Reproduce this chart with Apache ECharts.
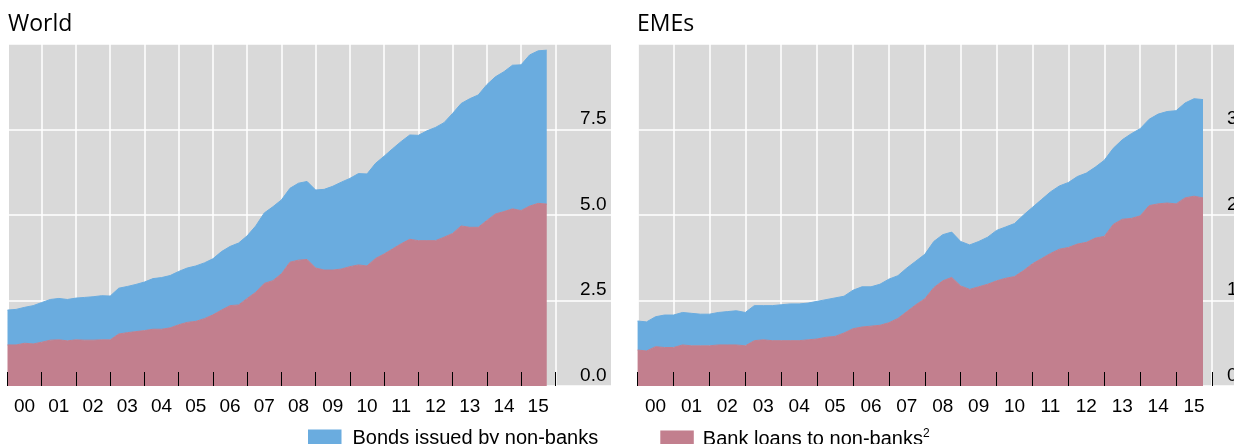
<!DOCTYPE html>
<html>
<head>
<meta charset="utf-8">
<script src="https://cdn.jsdelivr.net/npm/echarts@6/dist/echarts.min.js"></script>
<style>
html,body{margin:0;padding:0;background:#fff;}
#chart{width:1234px;height:444px;}
</style>
</head>
<body>
<div id="chart"></div>
<script>
// ---- data ----
const yearLabels = ['00','01','02','03','04','05','06','07','08','09','10','11','12','13','14','15'];
const startYear = 2000; // first quarterly observation (2000 Q1), quarterly steps to 2015 Q4
const panelTitles = ['World', 'EMEs'];
const seriesNames = ['Bonds issued by non-banks', 'Bank loans to non-banks'];

const worldLoans = [1.20,1.20,1.25,1.23, 1.28,1.34,1.35,1.32, 1.35,1.34,1.34,1.35, 1.35,1.52,1.56,1.59,
  1.62,1.66,1.66,1.70, 1.79,1.86,1.89,1.97, 2.08,2.22,2.35,2.37, 2.56,2.74,3.00,3.08,
  3.28,3.62,3.68,3.70, 3.45,3.39,3.39,3.42, 3.49,3.54,3.51,3.73, 3.86,4.01,4.16,4.29,
  4.25,4.25,4.25,4.35, 4.46,4.68,4.64,4.64, 4.84,5.03,5.10,5.18, 5.13,5.26,5.34,5.32];
const worldBonds = [1.02,1.04,1.05,1.12, 1.16,1.19,1.21,1.21, 1.22,1.25,1.27,1.29, 1.28,1.34,1.35,1.38,
  1.42,1.48,1.51,1.53, 1.56,1.59,1.62,1.63, 1.64,1.71,1.73,1.81, 1.83,1.94,2.06,2.16,
  2.16,2.16,2.25,2.28, 2.28,2.36,2.45,2.54, 2.58,2.67,2.69,2.78, 2.86,2.93,2.99,3.05,
  3.08,3.21,3.31,3.35, 3.51,3.58,3.76,3.87, 3.97,4.01,4.09,4.20, 4.26,4.42,4.46,4.50];
const emeLoans = [0.42,0.41,0.46,0.45, 0.45,0.48,0.47,0.47, 0.47,0.48,0.48,0.48, 0.47,0.53,0.54,0.53,
  0.53,0.53,0.53,0.54, 0.55,0.57,0.58,0.62, 0.67,0.69,0.70,0.71, 0.74,0.79,0.87,0.95,
  1.02,1.15,1.23,1.27, 1.17,1.13,1.16,1.19, 1.23,1.26,1.28,1.35, 1.43,1.49,1.55,1.60,
  1.62,1.66,1.68,1.73, 1.75,1.89,1.95,1.96, 1.99,2.11,2.13,2.14, 2.13,2.20,2.22,2.20];
const emeBonds = [0.34,0.34,0.35,0.38, 0.38,0.38,0.38,0.37, 0.37,0.38,0.39,0.40, 0.39,0.41,0.40,0.41,
  0.42,0.43,0.43,0.43, 0.44,0.44,0.45,0.43, 0.45,0.47,0.46,0.48, 0.51,0.50,0.51,0.51,
  0.52,0.54,0.54,0.53, 0.52,0.52,0.53,0.55, 0.59,0.60,0.62,0.65, 0.66,0.69,0.72,0.74,
  0.76,0.79,0.81,0.83, 0.89,0.89,0.93,0.99, 1.02,1.01,1.05,1.07, 1.09,1.11,1.14,1.15];
const worldTicks = {max: 10, interval: 2.5};
const emeTicks = {max: 4, interval: 1};

// quarter categories for the data axis (2000 Q1 .. 2015 Q4)
const quarters = worldLoans.map((_, k) => (startYear + Math.floor(k / 4)) + 'Q' + (k % 4 + 1));

// ---- styles / layout ----
const BLUE = '#6aacdf', PINK = '#c27f8e', GREY = '#d9d9d9';
const FONT = 'Liberation Sans, Arial, sans-serif';
const plotTop = 44, plotHeight = 342;
const nYears = yearLabels.length;
const panels = [
  {bgLeft: 9, bgRight: 611, axLeft: 7.5, axRight: 555.3, ticks: worldTicks, loans: worldLoans, bonds: worldBonds,
   labelMargin: 4.5, titleLeft: 8},
  {bgLeft: 638.5, bgRight: 1270, axLeft: 637.6, axRight: 1212, ticks: emeTicks, loans: emeLoans, bonds: emeBonds,
   labelMargin: 16.6, titleLeft: 637}
];

const grid = [], xAxis = [], yAxis = [], series = [], title = [];
panels.forEach((p, i) => {
  const yearW = (p.axRight - p.axLeft) / nYears;
  // background grid: grey area + horizontal gridlines + value labels
  const gBg = grid.length;
  grid.push({left: p.bgLeft, width: p.bgRight - p.bgLeft, top: plotTop, height: plotHeight,
    outerBoundsMode: 'none', containLabel: false,
    show: true, backgroundColor: GREY, borderWidth: 0});
  xAxis.push({type: 'value', gridIndex: gBg, min: 0, max: 1, show: false});
  yAxis.push({type: 'value', gridIndex: gBg, min: 0, max: p.ticks.max, interval: p.ticks.interval,
    position: 'right', axisLine: {show: false}, axisTick: {show: false},
    splitLine: {show: true, lineStyle: {color: '#ffffff', width: 1.5}},
    axisLabel: {inside: true, margin: p.labelMargin, verticalAlign: 'bottom',
      padding: [0, 0, 1, 0], showMaxLabel: false, color: '#000', fontSize: 19, fontFamily: FONT,
      formatter: v => v.toFixed(1)}});

  // year grid: vertical gridlines, ticks, year labels
  const gAx = grid.length;
  grid.push({left: p.axLeft, width: p.axRight - p.axLeft, top: plotTop, height: plotHeight,
    outerBoundsMode: 'none', show: false});
  xAxis.push({type: 'value', gridIndex: gAx, min: 2000, max: 2016, interval: 1, position: 'bottom',
    axisLine: {show: false}, axisTick: {show: false}, axisLabel: {show: false},
    splitLine: {show: true, lineStyle: {color: '#ffffff', width: 1.5}}});
  xAxis.push({type: 'value', gridIndex: gAx, min: 2000, max: 2016, interval: 1, position: 'bottom', z: 10,
    axisLine: {show: false}, axisLabel: {show: false}, splitLine: {show: false},
    axisTick: {show: true, inside: true, length: 14, lineStyle: {color: '#000', width: 1}}});
  xAxis.push({type: 'category', gridIndex: gAx, data: yearLabels, boundaryGap: true, position: 'bottom',
    axisLine: {show: false}, axisTick: {show: false}, splitLine: {show: false},
    axisLabel: {interval: 0, margin: 11, color: '#000', fontSize: 19, fontFamily: FONT}});
  yAxis.push({type: 'value', gridIndex: gAx, min: 0, max: p.ticks.max, show: false, splitLine: {show: false}});

  // data grid: quarterly categories from 2000Q1 to the last observation
  const gData = grid.length;
  grid.push({left: p.axLeft, width: yearW * (quarters.length - 1) / 4, top: plotTop, height: plotHeight,
    outerBoundsMode: 'none', show: false});
  const xData = xAxis.length;
  xAxis.push({type: 'category', gridIndex: gData, data: quarters, boundaryGap: false, show: false});
  const yData = yAxis.length;
  yAxis.push({type: 'value', gridIndex: gData, min: 0, max: p.ticks.max, show: false, splitLine: {show: false}});

  const stack = 'panel' + i;
  series.push({name: seriesNames[1], type: 'line', xAxisIndex: xData, yAxisIndex: yData, stack: stack,
    symbol: 'none', data: p.loans, z: 2,
    lineStyle: {width: 1, color: PINK}, itemStyle: {color: PINK}, areaStyle: {color: PINK, opacity: 1}});
  series.push({name: seriesNames[0], type: 'line', xAxisIndex: xData, yAxisIndex: yData, stack: stack,
    symbol: 'none', data: p.bonds, z: 2,
    lineStyle: {width: 1, color: BLUE}, itemStyle: {color: BLUE}, areaStyle: {color: BLUE, opacity: 1}});

  title.push({text: panelTitles[i], left: p.titleLeft, top: 13, padding: 0,
    textStyle: {fontSize: 23, fontWeight: 'normal', color: '#000', fontFamily: 'Open Sans, sans-serif'}});
});

const legendBase = {top: 428, padding: 0, icon: 'rect', itemWidth: 33.5, itemHeight: 17, selectedMode: false};
const option = {
  animation: false,
  title: title,
  grid: grid, xAxis: xAxis, yAxis: yAxis, series: series,
  legend: [
    Object.assign({}, legendBase, {left: 308, data: [seriesNames[0]],
      textStyle: {fontSize: 20, color: '#000', fontFamily: FONT, padding: [0, 0, 0, 6]}}),
    Object.assign({}, legendBase, {left: 660.3, data: [seriesNames[1]],
      formatter: n => n + '{sup|2}',
      textStyle: {fontSize: 20, color: '#000', fontFamily: FONT, padding: [0, 0, 0, 4],
        rich: {sup: {fontSize: 12, fontFamily: FONT, color: '#000', verticalAlign: 'top', padding: [0, 0, 10, 0]}}}})
  ]
};
const chart = echarts.init(document.getElementById('chart'), null, {renderer: 'canvas'});
chart.setOption(option);
</script>
</body>
</html>
